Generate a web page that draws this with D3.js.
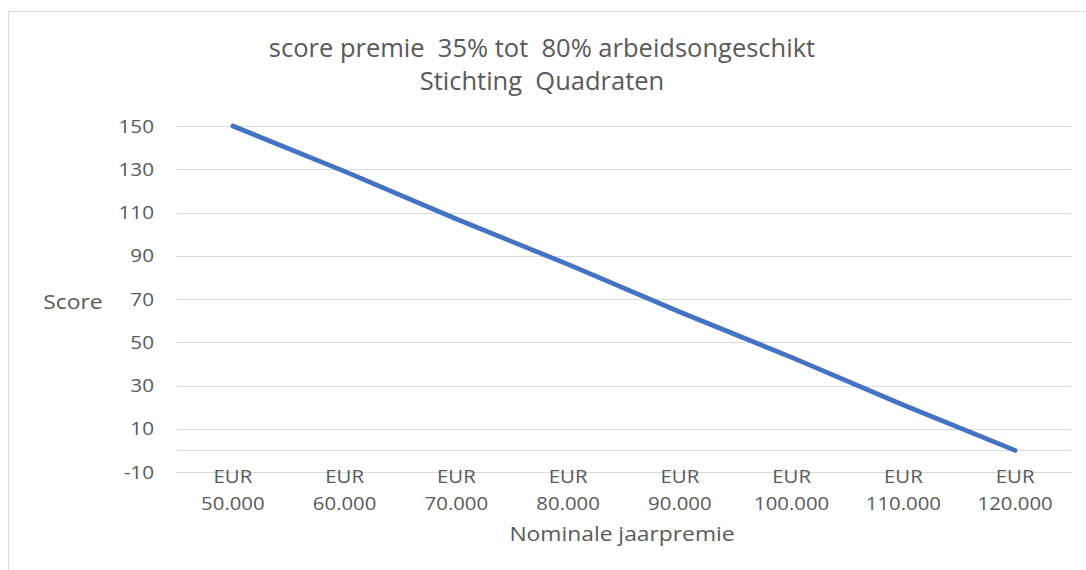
<!DOCTYPE html>
<html><head><meta charset="utf-8">
<script src="https://cdn.jsdelivr.net/npm/d3@7"></script>
<style>body{margin:0;background:#fff;}svg{display:block;}</style>
</head><body><svg id="c" width="1086" height="570"></svg>
<script>
const categories = ["EUR 50.000","EUR 60.000","EUR 70.000","EUR 80.000","EUR 90.000","EUR 100.000","EUR 110.000","EUR 120.000"];
const scores = [150, 129, 107, 86, 64, 43, 21, 0];
const yTicks = [-10, 10, 30, 50, 70, 90, 110, 130, 150];
const titleLines = ["score premie  35% tot  80% arbeidsongeschikt", "Stichting  Quadraten"];
const xTitle = "Nominale jaarpremie";
const yTitle = "Score";

(function () {
const svg = d3.select("#c");
const W = 1086, H = 570;
svg.append("rect").attr("x", 8.5).attr("y", 11.5).attr("width", W + 10).attr("height", H + 10)
  .attr("fill", "#fff").attr("stroke", "#d9d9d9").attr("stroke-width", 1);

const pl = 177, pr = 1071, pt = 126, pb = 472;
const x = d3.scaleBand().domain(categories).range([pl, pr]);
const y = d3.scaleLinear().domain([-10, 150]).range([pb, pt]);

const font = "'Open Sans', 'Segoe UI', sans-serif";
const txt = "#595959";
const sx = 1.15;

const gridVals = yTicks.concat([0]);
svg.append("g").selectAll("line").data(gridVals).join("line")
  .attr("x1", pl).attr("x2", pr)
  .attr("y1", d => Math.round(y(d)) + 0.5).attr("y2", d => Math.round(y(d)) + 0.5)
  .attr("stroke", "#d9d9d9").attr("stroke-width", 1);

// y tick labels
svg.append("g").selectAll("text").data(yTicks).join("text")
  .attr("transform", d => `translate(154,${y(d) + 6.5}) scale(${sx},1)`)
  .attr("text-anchor", "end")
  .attr("font-family", font).attr("font-size", 18).attr("fill", txt)
  .text(d => String(d));

// x labels (two lines)
const gx = svg.append("g");
categories.forEach(c => {
  const parts = c.split(" ");
  const t = gx.append("text").attr("text-anchor", "middle")
    .attr("font-family", font).attr("font-size", 18.5).attr("fill", txt)
    .attr("transform", `translate(${x(c) + x.bandwidth() / 2},0) scale(1.1,1)`);
  t.append("tspan").attr("x", 0).attr("y", 483).text(parts[0]);
  t.append("tspan").attr("x", 0).attr("y", 510).text(parts[1]);
});

const line = d3.line().x((d, i) => x(categories[i]) + x.bandwidth() / 2).y(d => y(d));
svg.append("path").datum(scores).attr("d", line)
  .attr("fill", "none").attr("stroke", "#4472C4").attr("stroke-width", 4.75)
  .attr("stroke-linecap", "round").attr("stroke-linejoin", "round");

titleLines.forEach((t, i) => {
  svg.append("text").attr("x", 542).attr("y", 57 + i * 33).attr("text-anchor", "middle")
    .attr("font-family", font).attr("font-size", 25.5).attr("fill", txt)
    .style("white-space", "pre").text(t);
});
svg.append("text").attr("transform", `translate(622,541) scale(1.17,1)`).attr("text-anchor", "middle")
  .attr("font-family", font).attr("font-size", 19.5).attr("fill", txt).text(xTitle);
svg.append("text").attr("transform", `translate(73,309) scale(1.17,1)`).attr("text-anchor", "middle")
  .attr("font-family", font).attr("font-size", 19.5).attr("fill", txt).text(yTitle);
})();
</script></body></html>
